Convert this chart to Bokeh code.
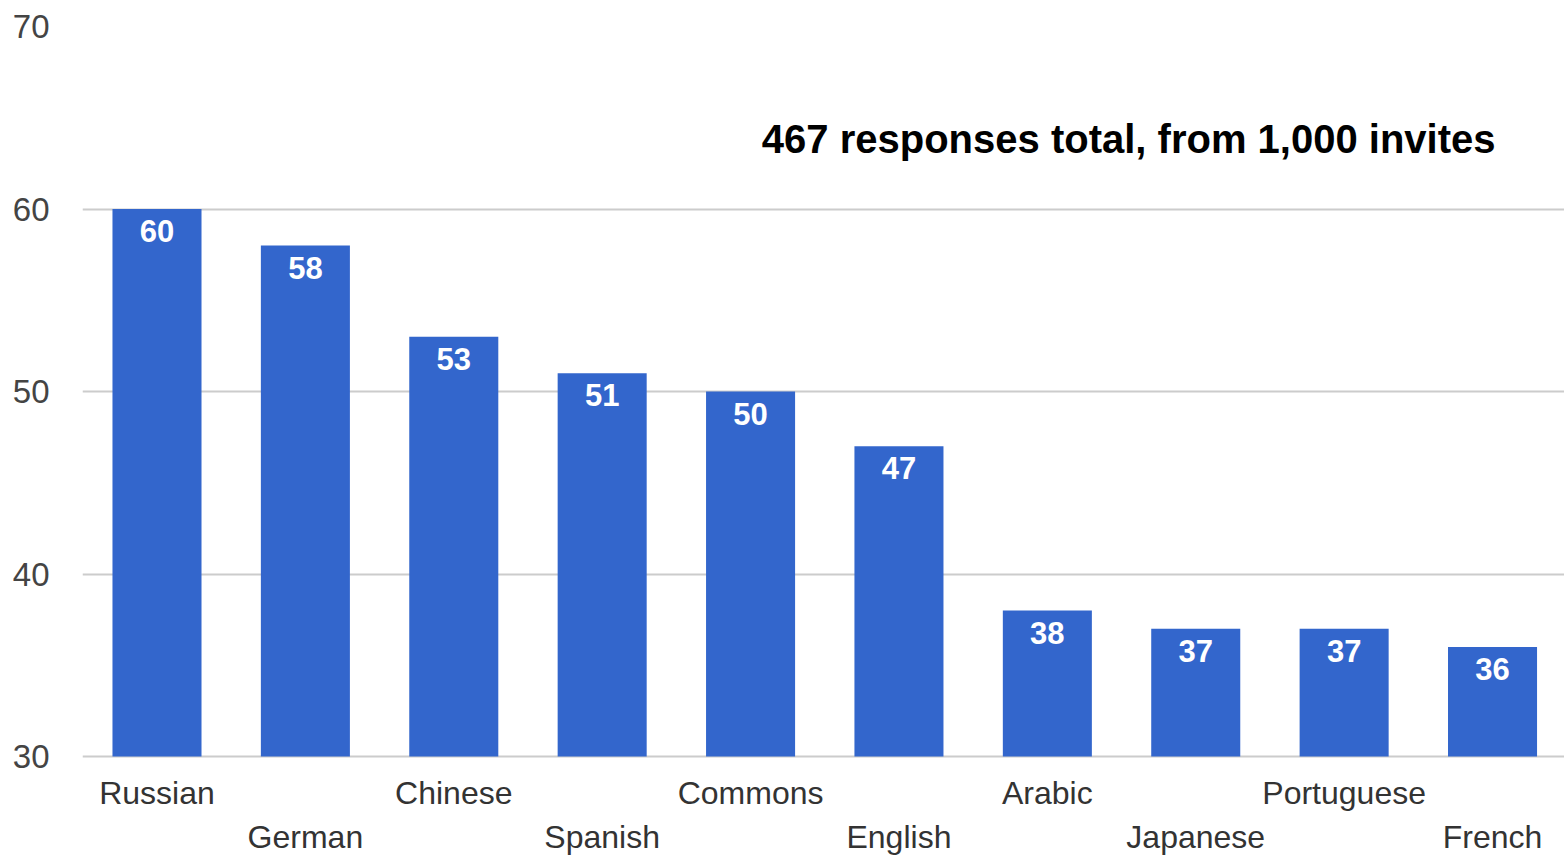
from bokeh.plotting import figure
from bokeh.models import ColumnDataSource, Range1d, FixedTicker, Label
from bokeh.core.properties import value
from bokeh.embed import file_html
from bokeh.resources import INLINE

languages = ["Russian", "German", "Chinese", "Spanish", "Commons", "English",
             "Arabic", "Japanese", "Portuguese", "French"]
responses = [60, 58, 53, 51, 50, 47, 38, 37, 37, 36]
y_ticks = [30, 40, 50, 60, 70]
note = "467 responses total, from 1,000 invites"

idx = list(range(len(languages)))
src = ColumnDataSource(dict(
    x=idx, top=responses, lab=[str(v) for v in responses],
    cat=languages,
    base=[y_ticks[0]] * len(idx),
    off=[36 if i % 2 == 0 else 80 for i in idx],
))

px_per_unit = 730 / 40.0
W, H = 1564, 856
p = figure(width=W, height=H, output_backend="svg", toolbar_location=None,
           x_range=Range1d(-0.502, 9.485),
           y_range=Range1d(30 - 100 / px_per_unit, 70),
           min_border_left=82, min_border_right=0, min_border_top=26,
           min_border_bottom=0)
p.outline_line_color = None
p.background_fill_color = "white"
p.border_fill_color = "white"

p.vbar(x="x", top="top", bottom="base", width=0.6, source=src,
       fill_color="#3366CC", line_color=None)

p.text(x="x", y="top", text="lab", source=src, text_align="center",
       text_baseline="middle", y_offset=22, text_color="white",
       text_font=value("Liberation Sans"), text_font_size="31px",
       text_font_style="bold")

p.text(x="x", y="base", text="cat", source=src, text_align="center",
       text_baseline="middle", y_offset="off", text_color="#333333",
       text_font=value("Liberation Sans"), text_font_size="32px")

p.xaxis.visible = False
p.xgrid.visible = False
p.yaxis.ticker = FixedTicker(ticks=y_ticks)
p.yaxis.axis_line_color = None
p.yaxis.major_tick_line_color = None
p.yaxis.minor_tick_line_color = None
p.yaxis.major_label_standoff = 27
p.yaxis.major_label_text_font = "Liberation Sans"
p.yaxis.major_label_text_font_size = "33px"
p.yaxis.major_label_text_color = "#444444"
p.ygrid.ticker = FixedTicker(ticks=y_ticks)
p.ygrid.grid_line_color = "#cccccc"
p.ygrid.grid_line_width = 2

p.add_layout(Label(x=9.02, y=70 - 112 / px_per_unit,
                   text=note, text_align="right", text_baseline="middle",
                   text_font="Liberation Sans", text_font_style="bold",
                   text_font_size="40px", text_color="black"))

open("out.html", "w").write(file_html(p, INLINE))
